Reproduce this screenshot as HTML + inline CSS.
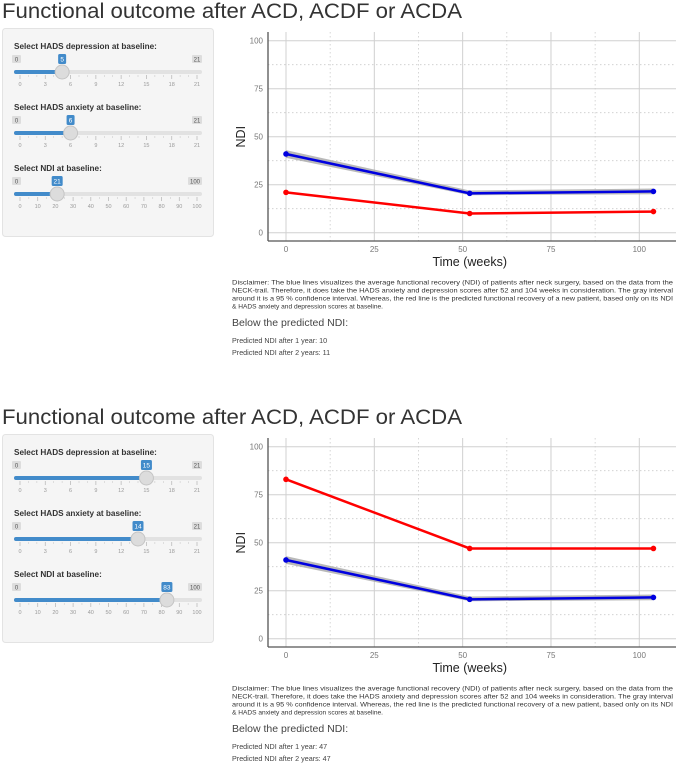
<!DOCTYPE html>
<html><head><meta charset="utf-8"><style>
body{margin:0;background:#fff;width:676px;height:765px;overflow:hidden;font-family:"Liberation Sans",Arial,sans-serif}
svg text{font-family:"Liberation Sans",Arial,sans-serif}
</style></head><body>
<svg id="root" width="676" height="765" viewBox="0 0 676 765" xmlns="http://www.w3.org/2000/svg"></svg>
<script>
const weeks = [0, 52, 104];
const blueMean = [41, 20.5, 21.5];
const blueLow = [39, 19.5, 20];
const blueHigh = [43, 22, 23];
const redPanel1 = [21, 10, 11];
const redPanel2 = [83, 47, 47];
const yTicks = [0, 25, 50, 75, 100];
const xTicks = [0, 25, 50, 75, 100];
const sliderValues1 = [5, 6, 21];
const sliderValues2 = [15, 14, 83];
const sliderMax = [21, 21, 100];
const sliderLabels = ["Select HADS depression at baseline:", "Select HADS anxiety at baseline:", "Select NDI at baseline:"];
const predicted1 = [10, 11];
const predicted2 = [47, 47];

const NS = "http://www.w3.org/2000/svg";
const root = document.getElementById('root');
function el(tag, attrs, parent, txt){
  const e = document.createElementNS(NS, tag);
  for (const k in attrs) e.setAttribute(k, attrs[k]);
  if (txt !== undefined) e.textContent = txt;
  (parent || root).appendChild(e);
  return e;
}
const disclaimer = [
"Disclaimer: The blue lines visualizes the average functional recovery (NDI) of patients after neck surgery, based on the data from the",
"NECK-trail. Therefore, it does take the HADS anxiety and depression scores after 52 and 104 weeks in consideration. The gray interval",
"around it is a 95 % confidence interval. Whereas, the red line is the predicted functional recovery of a new patient, based only on its NDI",
"& HADS anxiety and depression scores at baseline."];

function drawSection(oy, idx, redVals, sVals, pred){
  const sec = el('g', {}, root);
  
  
  const t = el('text', {x:2, y:oy+18, 'font-size':21, fill:'#333', textLength:460, lengthAdjust:'spacingAndGlyphs'}, sec, 'Functional outcome after ACD, ACDF or ACDA');
  
  
  // sidebar
  const sb = el('rect', {x:2.5, y:oy+28.5, width:211, height:208, rx:3, fill:'#f5f5f5', stroke:'#e3e3e3'}, sec);
  
  
  for (let i=0;i<3;i++){
    const by = oy + 46 + i*61;
    const sg = el('g', {}, sec);
    
    
    const lb = el('text', {x:14, y:by+3, 'font-size':8.2, 'font-weight':'bold', fill:'#333'}, sg, sliderLabels[i]);
    
    
    const x0 = 20, x1 = 197, max = sliderMax[i], v = sVals[i];
    const hx = x0 + (x1-x0)*v/max;
    // min/max badges
    el('rect', {x:12, y:by+9, width:9, height:8, rx:1, fill:'#ddd'}, sg);
    el('text', {x:16.5, y:by+15.5, 'font-size':6, fill:'#555', 'text-anchor':'middle'}, sg, '0');
    const mw = max===100?14:10;
    el('rect', {x:202-mw, y:by+9, width:mw, height:8, rx:1, fill:'#ddd'}, sg);
    el('text', {x:202-mw/2, y:by+15.5, 'font-size':6, fill:'#555', 'text-anchor':'middle'}, sg, String(max));
    // track
    el('rect', {x:14, y:by+24, width:188, height:4, rx:2, fill:'#e2e2e2'}, sg);
    const fill = el('rect', {x:14, y:by+24, width:hx-14, height:4, rx:2, fill:'#428bca'}, sg);
    
    
    // ticks
    const step = max===100?10:3;
    for (let k=0;k<=max;k+=step){
      const tx = x0 + (x1-x0)*k/max;
      el('line', {x1:tx, x2:tx, y1:by+29, y2:by+33, stroke:'#bbb', 'stroke-width':0.8}, sg);
      if (k+step<=max){ for (let m=1;m<(max===100?2:3);m++){ const mx = x0+(x1-x0)*(k+m*step/(max===100?2:3))/max; el('line',{x1:mx,x2:mx,y1:by+29,y2:by+31,stroke:'#ccc','stroke-width':0.6},sg);} }
      el('text', {x:tx, y:by+40, 'font-size':5.5, fill:'#999', 'text-anchor':'middle'}, sg, String(k));
    }
    // value badge
    const vw = String(v).length>1?11:8;
    el('rect', {x:hx-vw/2, y:by+8, width:vw, height:10, rx:1.5, fill:'#428bca'}, sg);
    el('text', {x:hx, y:by+15.5, 'font-size':6.5, fill:'#fff', 'text-anchor':'middle'}, sg, String(v));
    const h = el('circle', {cx:hx, cy:by+26, r:7, fill:'#dcdcdc', stroke:'#c4c4c4'}, sg);
    
    
  }
  // chart
  const L = 268, R = 676, yTop = oy+32, yBot = oy+241;
  const sx = w => 286 + w*3.533;
  const sy = v => (oy+232.7) - v*1.92;
  const cg = el('g', {}, sec);
  
  
  for (let k=0;k<yTicks.length;k++){
    const v = yTicks[k];
    el('line', {x1:L, x2:R, y1:sy(v), y2:sy(v), stroke:'#d0d0d0', 'stroke-width':1}, cg);
    if (k<yTicks.length-1){ const mv=(yTicks[k]+yTicks[k+1])/2; el('line', {x1:L, x2:R, y1:sy(mv), y2:sy(mv), stroke:'#ccc', 'stroke-width':0.8, 'stroke-dasharray':'1.5,2.5'}, cg);}
    const tl = el('text', {x:L-5, y:sy(v)+3, 'font-size':8, fill:'#777', 'text-anchor':'end'}, cg, String(v));
    
    
  }
  for (let k=0;k<xTicks.length;k++){
    const v = xTicks[k];
    el('line', {x1:sx(v), x2:sx(v), y1:yTop, y2:yBot, stroke:'#d0d0d0', 'stroke-width':1}, cg);
    const mv = v+12.5;
    if (sx(mv) < R) el('line', {x1:sx(mv), x2:sx(mv), y1:yTop, y2:yBot, stroke:'#ccc', 'stroke-width':0.8, 'stroke-dasharray':'1.5,2.5'}, cg);
    const tl = el('text', {x:sx(v), y:yBot+11, 'font-size':8, fill:'#777', 'text-anchor':'middle'}, cg, String(v));
    
    
  }
  el('line', {x1:L, x2:L, y1:yTop, y2:yBot, stroke:'#555', 'stroke-width':1.3}, cg);
  el('line', {x1:L, x2:R, y1:yBot, y2:yBot, stroke:'#555', 'stroke-width':1.3}, cg);
  const xt = el('text', {x:sx(52), y:yBot+25, 'font-size':12.5, fill:'#222', 'text-anchor':'middle'}, cg, 'Time (weeks)');
  
  
  const yt = el('text', {x:0, y:0, 'font-size':12.5, fill:'#222', 'text-anchor':'middle', transform:`translate(245 ${sy(50)}) rotate(-90)`}, cg, 'NDI');
  
  
  // band
  let d = weeks.map((w,i)=>(i?'L':'M')+sx(w)+' '+sy(blueHigh[i])).join(' ');
  for (let i=weeks.length-1;i>=0;i--) d += ' L'+sx(weeks[i])+' '+sy(blueLow[i]);
  const band = el('path', {d:d+' Z', fill:'#a8a8a8', opacity:0.8}, cg);
  
  
  const bl = el('polyline', {points:weeks.map((w,i)=>sx(w)+','+sy(blueMean[i])).join(' '), fill:'none', stroke:'#0000e0', 'stroke-width':2.5}, cg);
  
  
  const rl = el('polyline', {points:weeks.map((w,i)=>sx(w)+','+sy(redVals[i])).join(' '), fill:'none', stroke:'#ff0000', 'stroke-width':2.5}, cg);
  
  
  weeks.forEach((w,i)=>{
    const p1 = el('circle', {cx:sx(w), cy:sy(blueMean[i]), r:2.8, fill:'#0000e0'}, cg);
    
    
    const p2 = el('circle', {cx:sx(w), cy:sy(redVals[i]), r:2.8, fill:'#ff0000'}, cg);
    
    
  });
  // disclaimer
  const dg = el('g', {}, sec);
  
  
  disclaimer.forEach((s,i)=>{
    const a = {x:232, y:oy+284.5+i*8, 'font-size':6.6, fill:'#333'};
    if (i<3){ a.textLength = 441; a.lengthAdjust='spacingAndGlyphs'; }
    el('text', a, dg, s);
  });
  const bh = el('text', {x:232, y:oy+326, 'font-size':10.5, fill:'#444'}, sec, 'Below the predicted NDI:');
  
  
  const pa = el('text', {x:232, y:oy+343, 'font-size':7.2, fill:'#444'}, sec, 'Predicted NDI after 1 year: ' + pred[0]);
  
  
  const pb = el('text', {x:232, y:oy+355, 'font-size':7.2, fill:'#444'}, sec, 'Predicted NDI after 2 years: ' + pred[1]);
  
  
}
drawSection(0, 1, redPanel1, sliderValues1, predicted1);
drawSection(406, 2, redPanel2, sliderValues2, predicted2);
</script>
</body></html>
